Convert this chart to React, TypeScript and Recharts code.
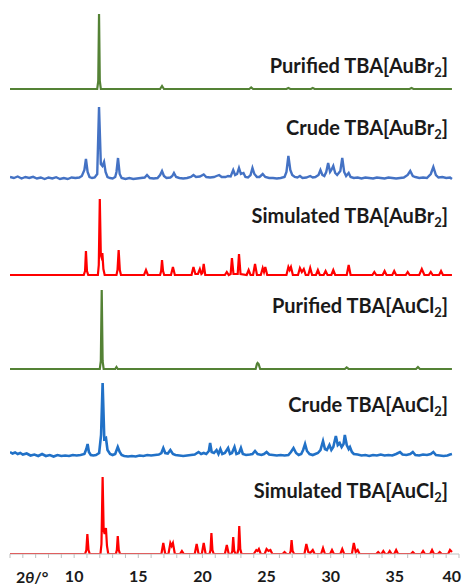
import React from 'react';
import { LineChart, Line, XAxis, YAxis, Customized } from 'recharts';

type P = [number, number];

// 2θ (deg) vs relative intensity
const purifiedAuBr2: P[] = [[5,0],[11.8,0],[11.88,8],[11.94,75],[12.0,8],[12.08,0],[16.7,0],[16.85,3],[17.0,0],[23.65,0],[23.8,1.5],[23.95,0],[26.55,0],[26.7,1],[26.85,0],[28.45,0],[28.6,1],[28.75,0],[36.15,0],[36.3,1],[36.45,0],[39.45,0]];

const crudeAuBr2: P[] = [[5.0,1],[5.3,0],[5.6,1.5],[5.9,-0.5],[6.2,1],[6.5,0],[6.8,1.2],[7.1,-0.5],[7.4,0.5],[7.7,-1],[8.0,0.5],[8.3,-0.5],[8.6,0.8],[8.9,-1],[9.2,0],[9.5,-1],[9.8,0.5],[10.1,0],[10.4,0.5],[10.6,2],[10.8,8],[10.92,19],[11.05,6],[11.2,1],[11.4,0],[11.6,0.5],[11.8,4],[11.94,71],[12.08,14],[12.2,12],[12.33,16],[12.45,6],[12.6,1],[12.8,0],[13.0,-0.5],[13.2,1],[13.3,6],[13.42,20],[13.55,4],[13.7,0],[14.0,-1],[14.3,0],[14.6,-1],[14.9,-0.5],[15.2,0],[15.5,0.5],[15.68,3],[15.9,0],[16.2,-0.5],[16.5,0],[16.7,3],[16.85,7],[17.0,2],[17.2,0],[17.5,0.5],[17.65,2],[17.78,5],[17.95,1],[18.2,0],[18.5,-0.5],[18.8,0],[19.1,1],[19.3,3],[19.5,1],[19.8,1.5],[20.1,3.5],[20.3,1],[20.6,0.5],[20.9,1],[21.1,2],[21.3,3],[21.5,1],[21.8,1],[22.0,2],[22.2,1.5],[22.4,8],[22.55,3],[22.7,4],[22.85,10],[23.0,4],[23.2,5],[23.35,1],[23.55,0.5],[23.75,3],[23.9,10],[24.05,4],[24.25,1],[24.45,1],[24.7,4],[24.9,1],[25.2,0],[25.5,0],[25.8,-0.5],[26.1,0],[26.4,1],[26.55,6],[26.7,22],[26.85,8],[27.0,3],[27.2,1],[27.4,0.5],[27.6,2],[27.8,0],[28.1,0.5],[28.4,2],[28.6,0.5],[28.8,1],[29.05,3],[29.2,8],[29.35,3],[29.5,2],[29.65,6],[29.8,15],[29.95,6],[30.05,8],[30.2,12],[30.35,5],[30.5,3],[30.75,7],[30.9,20],[31.05,6],[31.2,2],[31.4,5],[31.55,1],[31.8,0],[32.1,0.5],[32.4,-0.5],[32.7,0.5],[33.0,0],[33.3,-0.5],[33.6,0.5],[33.9,0],[34.2,-0.5],[34.5,0.5],[34.8,0],[35.1,-0.5],[35.4,0],[35.7,0.5],[36.0,3],[36.2,7],[36.4,2],[36.6,1],[36.9,0],[37.2,0.5],[37.5,0],[37.8,4],[38.0,11],[38.2,3],[38.4,0.5],[38.7,1],[39.0,0],[39.3,0.5],[39.45,-1]];

const simulatedAuBr2: P[] = [[5,0],[10.75,0],[10.85,4],[10.92,24],[11.0,4],[11.1,0],[11.85,0],[11.92,10],[12.0,76],[12.08,20],[12.13,18],[12.2,22],[12.28,6],[12.38,0],[13.3,0],[13.38,5],[13.47,25],[13.56,5],[13.65,0],[15.45,0],[15.6,5],[15.75,0],[16.7,0],[16.78,4],[16.85,15],[16.93,4],[17.02,0],[17.55,0],[17.7,8],[17.85,0],[19.15,0],[19.3,8],[19.45,1],[19.65,1],[19.8,6],[19.92,1],[20.0,2],[20.1,11],[20.22,0],[21.75,0],[21.9,3],[22.05,0],[22.2,1],[22.3,17],[22.42,1],[22.75,1],[22.85,21],[22.97,1],[23.45,0],[23.6,5],[23.75,0],[23.95,0],[24.1,11],[24.25,0],[24.55,0],[24.7,7],[24.8,3],[24.9,8],[25.05,0],[26.55,0],[26.7,8],[26.8,5],[26.9,8],[27.05,0],[27.45,0],[27.6,7],[27.75,3],[27.9,6],[28.05,0],[28.25,0],[28.4,7],[28.55,0],[28.85,0],[29.0,5],[29.15,0],[29.45,0],[29.6,4],[29.75,0],[30.05,0],[30.2,5],[30.35,0],[31.25,0],[31.4,10],[31.55,0],[33.25,0],[33.4,3],[33.55,0],[34.05,0],[34.2,4],[34.35,0],[34.8,0],[34.95,4],[35.1,0],[35.85,0],[36.0,3],[36.15,0],[36.9,0],[37.1,6],[37.3,0],[37.65,0],[37.8,3],[37.95,0],[38.45,0],[38.6,4],[38.75,0],[39.45,0]];

const purifiedAuCl2: P[] = [[5,0],[12.0,0],[12.08,8],[12.15,79],[12.22,8],[12.3,0],[13.2,0],[13.3,2],[13.4,0],[24.15,0],[24.25,5],[24.3,6],[24.38,5],[24.5,0],[31.1,0],[31.24,1.5],[31.4,0],[36.65,0],[36.8,2],[36.95,0],[39.45,0]];

const crudeAuCl2: P[] = [[5.0,3],[5.2,1.5],[5.4,2.5],[5.6,1],[5.8,2],[6.0,0.5],[6.3,1.5],[6.6,-0.5],[6.9,0.5],[7.2,-1],[7.5,1],[7.8,-1],[8.1,0],[8.4,-1.5],[8.7,0],[9.0,-1],[9.3,-0.5],[9.6,-1],[9.9,0],[10.2,-0.5],[10.5,0],[10.8,1],[10.95,6],[11.05,11],[11.15,3],[11.3,0],[11.5,-0.5],[11.7,0],[11.95,2],[12.1,20],[12.22,72],[12.35,16],[12.48,17],[12.6,5],[12.8,1],[13.0,0],[13.2,1],[13.4,8],[13.55,3],[13.7,0],[13.9,-1],[14.2,-1.5],[14.5,-1],[14.8,-1.5],[15.1,-0.5],[15.4,-1],[15.7,0],[16.0,-0.5],[16.3,0],[16.6,0.5],[16.8,2],[16.95,7],[17.1,2],[17.3,1.5],[17.5,5],[17.7,1],[17.9,0],[18.2,-0.5],[18.5,-1],[18.8,-0.5],[19.1,0],[19.4,0.5],[19.7,3],[19.9,1],[20.1,2],[20.3,1],[20.5,4],[20.6,12],[20.72,3],[20.9,2],[21.1,5],[21.25,1],[21.4,6],[21.55,1],[21.75,2],[22.0,7],[22.15,1],[22.3,2],[22.5,8],[22.65,1],[22.85,2],[23.0,7],[23.15,1],[23.4,0],[23.7,0.5],[23.9,1],[24.1,4],[24.3,1],[24.6,0],[24.8,1],[25.0,3],[25.2,0.5],[25.5,0],[25.8,-0.5],[26.1,0],[26.4,-0.5],[26.7,0],[26.9,3],[27.1,7],[27.3,2],[27.5,0],[27.7,1],[27.85,5],[28.0,11],[28.15,4],[28.35,1],[28.6,0],[28.8,1],[29.0,2],[29.2,5],[29.4,14],[29.55,6],[29.7,5],[29.9,10],[30.05,5],[30.2,8],[30.4,19],[30.55,10],[30.7,12],[30.85,8],[31.0,11],[31.1,20],[31.25,10],[31.4,6],[31.5,8],[31.65,3],[31.8,1],[32.1,0.5],[32.4,-0.5],[32.7,0],[33.0,-1],[33.3,0],[33.6,-0.5],[33.9,0.5],[34.2,-0.5],[34.5,0],[34.8,-0.5],[35.1,1],[35.4,3],[35.6,0.5],[35.9,0],[36.2,1],[36.4,3],[36.6,0],[36.9,-0.5],[37.2,0.5],[37.5,0],[37.8,1],[38.0,3],[38.2,0],[38.5,-0.5],[38.8,-1],[39.1,-0.5],[39.3,0.5],[39.45,1]];

const simulatedAuCl2: P[] = [[5,0],[10.85,0],[10.95,4],[11.03,20],[11.12,4],[11.22,0],[12.05,0],[12.13,10],[12.22,77],[12.3,24],[12.38,20],[12.48,26],[12.56,8],[12.66,0],[13.25,0],[13.33,4],[13.4,18],[13.48,4],[13.58,0],[16.8,0],[16.95,11],[17.1,0],[17.35,0],[17.5,11],[17.6,8],[17.7,11],[17.85,0],[18.25,0],[18.4,3],[18.55,0],[19.4,0],[19.55,10],[19.7,0],[19.95,0],[20.1,11],[20.25,0],[20.55,0],[20.63,4],[20.7,21],[20.78,4],[20.88,0],[21.75,0],[21.9,9],[22.05,0],[22.25,0],[22.33,3],[22.4,17],[22.48,3],[22.58,0],[22.72,0],[22.8,5],[22.87,28],[22.95,5],[23.05,0],[24.0,0],[24.2,4],[24.3,3],[24.4,5],[24.55,0],[24.85,0],[25.0,5],[25.15,3],[25.3,4],[25.45,0],[26.25,0],[26.4,2],[26.55,0],[26.8,0],[26.88,3],[26.95,14],[27.03,3],[27.15,0],[27.95,0],[28.1,10],[28.25,2],[28.4,1],[28.6,4],[28.75,0],[29.25,0],[29.4,6],[29.55,0],[29.95,0],[30.1,4],[30.25,0],[30.75,0],[30.9,5],[31.05,0],[31.65,0],[31.8,11],[31.95,2],[32.1,4],[32.25,0],[33.55,0],[33.7,2],[33.85,0],[33.95,0],[34.1,3],[34.25,0],[34.45,0],[34.6,3],[34.75,0],[34.95,0],[35.1,4],[35.25,0],[36.25,0],[36.4,2],[36.55,0],[37.05,0],[37.2,3],[37.35,0],[37.75,0],[37.9,4],[38.05,0],[38.35,0],[38.5,2],[38.65,0],[39.15,0],[39.3,4],[39.45,2]];

const xTicks = [5,6,7,8,9,10,11,12,13,14,15,16,17,18,19,20,21,22,23,24,25,26,27,28,29,30,31,32,33,34,35,36,37,38,39,40];
const labeledTicks = [10, 15, 20, 25, 30, 35, 40];

const FONT = 'Lato, "Open Sans", sans-serif';
const TEXT = '#1a1a1a';

const toRows = (pts: P[]) => pts.map(([x, y]) => ({ x, y }));

const seriesDefs = [
  { id: 'g1', pts: purifiedAuBr2, color: '#548235', width: 2.2, domain: [-465, 89], label: 'Purified TBA[AuBr', base: 73 },
  { id: 'b1', pts: crudeAuBr2, color: '#4472c4', width: 2.4, domain: [-376, 178], label: 'Crude TBA[AuBr', base: 135 },
  { id: 'r1', pts: simulatedAuBr2, color: '#ff0000', width: 2.2, domain: [-279, 275], label: 'Simulated TBA[AuBr', base: 223 },
  { id: 'g2', pts: purifiedAuCl2, color: '#548235', width: 2.2, domain: [-185, 369], label: 'Purified TBA[AuCl', base: 313 },
  { id: 'b2', pts: crudeAuCl2, color: '#2171c7', width: 2.6, domain: [-99, 455], label: 'Crude TBA[AuCl', base: 412 },
  { id: 'r2', pts: simulatedAuCl2, color: '#ff0000', width: 2.2, domain: [0, 554], label: 'Simulated TBA[AuCl', base: 498 },
];

const Labels = () => (
  <g>
    {seriesDefs.map((s) => (
      <text key={s.id} x={448} y={s.base} textAnchor="end" fontFamily={FONT} fontWeight={700} fontSize={20} fill={TEXT}>
        <tspan>{s.label}</tspan>
        <tspan dy={4} fontSize={13}>2</tspan>
        <tspan dy={-4}>]</tspan>
      </text>
    ))}
    <text x={16} y={583} fontFamily={FONT} fontWeight={700} fontSize={16} fill={TEXT}>
      <tspan>2</tspan>
      <tspan fontStyle="italic">θ</tspan>
      <tspan>/°</tspan>
    </text>
  </g>
);

const Tick = (props: any) => {
  const { x, y, payload } = props;
  const v = payload?.value;
  if (!labeledTicks.includes(v)) return null;
  const isLast = v === 40;
  return (
    <text
      x={isLast ? 461 : x}
      y={y}
      dy="0.71em"
      textAnchor={isLast ? 'end' : 'middle'}
      fontFamily={FONT}
      fontWeight={700}
      fontSize={16}
      fill={TEXT}
    >
      {v}
    </text>
  );
};

export default function App() {
  return (
    <div style={{ position: 'absolute', left: 0, top: 0, width: 462, height: 587, background: '#fff' }}>
      <LineChart width={462} height={587} margin={{ top: 0, right: 3, left: 10, bottom: 0 }}>
        <XAxis
          type="number"
          dataKey="x"
          domain={[5, 40]}
          ticks={xTicks}
          interval={0}
          allowDataOverflow
          height={33}
          tickSize={4}
          tickMargin={13}
          axisLine={{ stroke: '#bfbfbf', strokeWidth: 1 }}
          tickLine={{ stroke: '#bfbfbf', strokeWidth: 1 }}
          tick={<Tick />}
        />
        {seriesDefs.map((s) => (
          <YAxis key={s.id} yAxisId={s.id} hide type="number" domain={s.domain} allowDataOverflow />
        ))}
        {seriesDefs.map((s) => (
          <Line
            key={s.id}
            yAxisId={s.id}
            data={toRows(s.pts)}
            dataKey="y"
            type="linear"
            stroke={s.color}
            strokeWidth={s.width}
            dot={false}
            activeDot={false}
            isAnimationActive={false}
          />
        ))}
        <Customized component={Labels} />
      </LineChart>
    </div>
  );
}
